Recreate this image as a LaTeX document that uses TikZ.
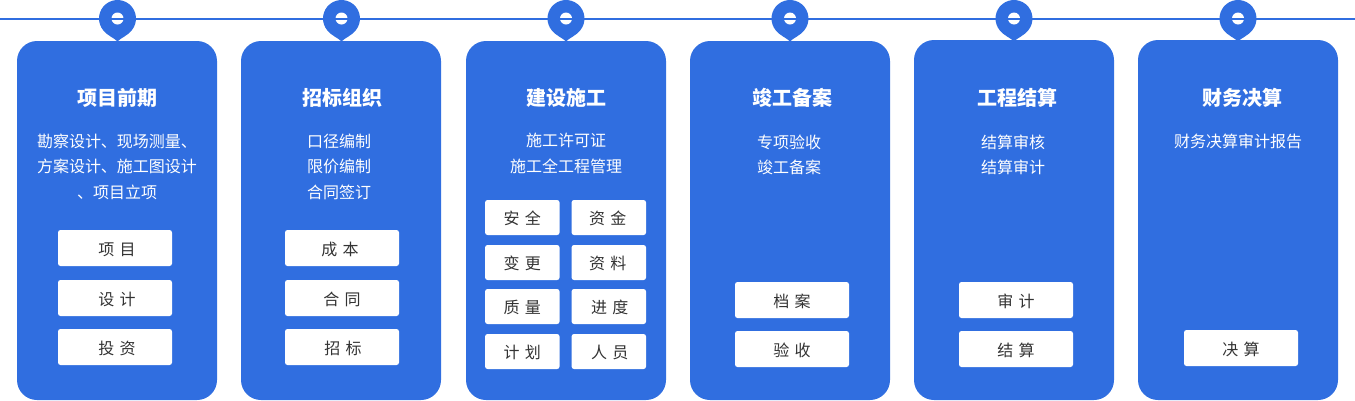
\documentclass[tikz,border=0pt]{standalone}
\usepackage{fontspec}
\setmainfont{Noto Sans CJK SC}[WordSpace=1.5]
\definecolor{cardblue}{HTML}{306EE0}
\definecolor{btntext}{HTML}{333333}
\tikzset{
	card/.style={fill=cardblue, rounded corners=20pt, minimum width=200pt, inner sep=0pt},
	btn/.style={fill=white, text=btntext, rounded corners=2.5pt, minimum width=114pt, minimum height=36pt, inner sep=0pt, text height=15pt, text depth=1pt, font=\fontsize{16}{20}\selectfont},
	btnsmall/.style={btn, minimum width=74.5pt, minimum height=35pt},
	title/.style={text=white, inner sep=0pt, font=\fontsize{20}{24}\selectfont\bfseries},
	body/.style={text=white, inner sep=0pt, align=center, font=\fontsize{16}{25.5}\selectfont},
}
\def\drawpin(#1){
	\fill[cardblue] (#1, 41.5) .. controls ({#1+2.5}, 38.5) and ({#1+11}, 35) .. ({#1+18.5*cos(40)}, {18.5+18.5*sin(40)}) arc (40:-220:18.5) .. controls ({#1-11}, 35) and ({#1-2.5}, 38.5) .. (#1, 41.5) -- cycle;
	\fill[white] (#1, 18.5) circle (6);
}
\def\nudge#1{\hspace*{#1pt}}

\begin{document}
\begin{tikzpicture}[x=1pt, y=-1pt]
		%%%%% START %%%%%
		\useasboundingbox (0, 0) rectangle (1355, 400);
		
		\coordinate (lineleft) at (0, 18.5);
		\coordinate (lineright) at (1355, 18.5);
		
		\drawpin(117.5)
		\drawpin(341.5)
		\drawpin(566)
		\drawpin(790)
		\drawpin(1014)
		\drawpin(1238)
		\draw[line width=2pt, color=cardblue] (lineleft) -- (lineright);
		
		\node[card, minimum height=359pt] (cardqianqi) at (117, 220.5) {};
		\node[card, minimum height=359pt] (cardzhaobiao) at (341, 220.5) {};
		\node[card, minimum height=359pt] (cardjianshe) at (566, 220.5) {};
		\node[card, minimum height=359pt] (cardjungong) at (790, 220.5) {};
		\node[card, minimum height=360pt] (cardjiesuan) at (1014, 220) {};
		\node[card, minimum height=360pt] (cardjuesuan) at (1238, 220) {};
		
		\node[title] (titleqianqi) at (117, 98) {项目前期};
		\node[title] (titlezhaobiao) at (342.5, 98) {招标组织};
		\node[title] (titlejianshe) at (566, 98) {建设施工};
		\node[title] (titlejungong) at (792, 98) {竣工备案};
		\node[title] (titlejiesuan) at (1017, 98) {工程结算};
		\node[title] (titlejuesuan) at (1242, 98) {财务决算};
		
		\node[body] (textqianqi) at (117, 166.5) {勘察设计、现场测量、\\方案设计、施工图设计\\、项目立项};
		\node[body] (textzhaobiao) at (339, 166.5) {口径编制\\限价编制\\合同签订};
		\node[body] (textjianshe) at (566, 153.5) {施工许可证\\施工全工程管理};
		\node[body] (textjungong) at (789, 155) {专项验收\\竣工备案};
		\node[body] (textjiesuan) at (1013, 155) {结算审核\\结算审计};
		\node[body] (textjuesuan) at (1238, 141.5) {财务决算审计报告};
		
		\node[btn] (btnxiangmu) at (115, 248) {\nudge{4}项 目};
		\node[btn] (btnsheji) at (115, 298) {\nudge{4}设 计};
		\node[btn] (btntouzi) at (115, 347) {\nudge{4}投 资};
		
		\node[btn] (btnchengben) at (342, 248) {成 本\nudge{4}};
		\node[btn] (btnhetong) at (342, 298) {合 同};
		\node[btn] (btnzhaobiao) at (342, 347) {\nudge{2}招 标};
		
		\node[btnsmall] (btnanquan) at (522.3, 217.5) {安 全};
		\node[btnsmall] (btnzijin) at (608.8, 217.5) {资 金\nudge{2}};
		\node[btnsmall] (btnbiangeng) at (522.3, 262.5) {变 更};
		\node[btnsmall] (btnziliao) at (608.8, 262.5) {资 料\nudge{2}};
		\node[btnsmall] (btnzhiliang) at (522.3, 306.5) {质 量};
		\node[btnsmall] (btnjindu) at (608.8, 306.5) {\nudge{2}进 度};
		\node[btnsmall] (btnjihua) at (522.3, 351.5) {计 划};
		\node[btnsmall] (btnrenyuan) at (608.8, 351.5) {\nudge{2}人 员};
		
		\node[btn] (btndangan) at (792, 300) {档 案};
		\node[btn] (btnyanshou) at (792, 349) {验 收};
		
		\node[btn] (btnshenji) at (1016, 300) {审 计};
		\node[btn] (btnjiesuan) at (1016, 349) {结 算};
		
		\node[btn] (btnjuesuan) at (1241, 348) {决 算};
		
		%%%%% END %%%%%
	\end{tikzpicture}
\end{document}
